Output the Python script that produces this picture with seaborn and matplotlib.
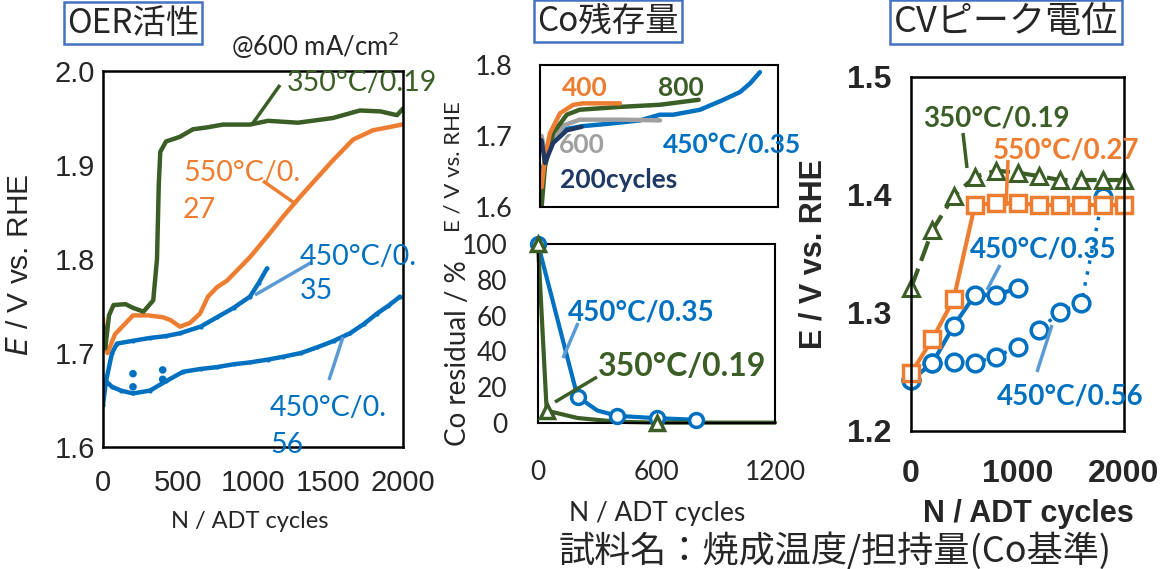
import numpy as np
import pandas as pd
import seaborn as sns
import matplotlib
matplotlib.use("Agg")
import matplotlib.pyplot as plt
from matplotlib.lines import Line2D

# ---------------- data ----------------
# Panel 1: OER activity @600 mA/cm2
oer_g_N = [0, 15, 40, 70, 150, 200, 270, 335, 360, 372, 382, 420, 513, 600, 693, 800, 980, 1100, 1300, 1533, 1713, 1850, 1960, 2000]
oer_g_E = [1.73, 1.705, 1.74, 1.751, 1.752, 1.748, 1.744, 1.756, 1.80, 1.88, 1.914, 1.925, 1.93, 1.938, 1.94, 1.943, 1.943, 1.947, 1.945, 1.95, 1.958, 1.957, 1.953, 1.96]
oer_o_N = [0, 10, 30, 80, 200, 300, 400, 450, 513, 580, 647, 700, 760, 827, 980, 1100, 1200, 1313, 1420, 1533, 1667, 1800, 1900, 1993]
oer_o_E = [1.737, 1.71, 1.70, 1.72, 1.74, 1.74, 1.738, 1.735, 1.728, 1.732, 1.742, 1.76, 1.77, 1.777, 1.802, 1.825, 1.845, 1.866, 1.885, 1.905, 1.927, 1.937, 1.94, 1.943]
oer_b35_N = [0, 20, 60, 93, 200, 313, 420, 513, 650, 760, 870, 980, 1040, 1093]
oer_b35_E = [1.66, 1.67, 1.70, 1.71, 1.713, 1.716, 1.718, 1.721, 1.728, 1.738, 1.748, 1.76, 1.775, 1.79]
oer_b56_N = [0, 20, 60, 120, 200, 313, 420, 533, 650, 760, 870, 980, 1100, 1200, 1320, 1427, 1540, 1647, 1740, 1827, 1900, 1980]
oer_b56_E = [1.645, 1.67, 1.664, 1.66, 1.657, 1.66, 1.67, 1.68, 1.683, 1.685, 1.688, 1.69, 1.693, 1.696, 1.70, 1.706, 1.713, 1.721, 1.731, 1.742, 1.75, 1.76]
oer_dots_N = [200, 200, 398, 398]
oer_dots_E = [1.678, 1.664, 1.682, 1.672]

# Panel 2 top: curves by cycle count
c200_N = [8, 25, 66, 135, 210]
c200_E = [1.694, 1.662, 1.69, 1.708, 1.713]
c400_N = [8, 25, 50, 101, 168, 218, 403]
c400_E = [1.628, 1.67, 1.704, 1.732, 1.744, 1.746, 1.746]
c600_N = [8, 30, 60, 120, 200, 400, 605]
c600_E = [1.70, 1.67, 1.69, 1.715, 1.723, 1.723, 1.722]
c800_N = [8, 25, 66, 135, 200, 403, 605, 800]
c800_E = [1.60, 1.657, 1.704, 1.73, 1.737, 1.741, 1.744, 1.751]
c35_N = [8, 50, 135, 218, 336, 504, 605, 672, 807, 925, 1009, 1059, 1109]
c35_E = [1.648, 1.69, 1.71, 1.714, 1.717, 1.722, 1.73, 1.73, 1.737, 1.751, 1.762, 1.774, 1.79]

# Panel 2 bottom: Co residual
res35_N = [0, 200, 300, 400, 600, 800]
res35_V = [100, 14.7, 7, 4, 2.7, 1.8]
res35_mk = [True, True, False, True, True, True]
res19_N = [0, 44, 200, 400, 600, 1200]
res19_V = [100, 6.9, 2.8, 0.7, 0.2, 0.2]
res19_mk = [True, True, False, False, True, False]

# Panel 3: CV peak potential
cv_N = [0, 200, 400, 600, 800, 1000, 1200, 1400, 1600, 1800, 2000]
cv_g = [1.321, 1.370, 1.399, 1.4155, 1.4206, 1.419, 1.416, 1.4127, 1.4127, 1.4127, 1.4127]
cv_o = [1.2489, 1.2777, 1.3116, 1.3915, 1.393, 1.393, 1.3915, 1.3915, 1.3915, 1.3915, 1.3915]
cv_b35_N = [0, 200, 400, 600, 800, 1000]
cv_b35 = [1.2432, 1.2574, 1.289, 1.3153, 1.3153, 1.321]
cv_b56_N = [0, 200, 400, 600, 800, 1000, 1200, 1400, 1600, 1800]
cv_b56 = [1.2432, 1.2574, 1.2588, 1.258, 1.263, 1.2714, 1.2856, 1.301, 1.3087, 1.398]

GREEN = "#3B5E26"
ORANGE = "#ED7D31"
BLUE = "#0070C0"
LBLUE = "#5B9BD5"
NAVY = "#1F3864"
GRAY = "#A0A0A0"
BOXC = "#4472C4"

sns.set_style("white")
CAL = ["Lato", "Noto Sans CJK JP", "DejaVu Sans"]
ARI = ["Liberation Sans", "DejaVu Sans"]
JP = ["Noto Sans CJK JP", "DejaVu Sans"]
plt.rcParams["font.family"] = CAL

W, H = 1165, 569
fig = plt.figure(figsize=(W / 100, H / 100), dpi=100)
fig.patch.set_facecolor("white")


def ax_px(l, t, r, b):
    return fig.add_axes([l / W, 1 - b / H, (r - l) / W, (b - t) / H])


def T(x, y, s, **kw):
    return fig.text(x / W, 1 - y / H, s, transform=fig.transFigure, **kw)


def L(x0, y0, x1, y1, color, lw=2.5):
    fig.add_artist(Line2D([x0 / W, x1 / W], [1 - y0 / H, 1 - y1 / H],
                          transform=fig.transFigure, color=color, lw=lw, solid_capstyle="butt"))


def style_axes(ax, lw=1.5):
    for s in ax.spines.values():
        s.set_visible(True)
        s.set_color("black")
        s.set_linewidth(lw)


def line(ax, x, y, color, lw, **kw):
    df = pd.DataFrame({"x": x, "y": y})
    sns.lineplot(data=df, x="x", y="y", ax=ax, color=color, lw=lw, sort=False,
                 estimator=None, legend=False, **kw)


BOX = dict(boxstyle="square,pad=0.1", fc="white", ec=BOXC, lw=1.8)

# ---------------- Panel 1 ----------------
ax1 = ax_px(103, 71, 403, 447)
line(ax1, oer_b56_N, oer_b56_E, BLUE, 3.2, marker="o", markersize=3, markeredgewidth=0)
line(ax1, oer_b35_N, oer_b35_E, BLUE, 3.2, marker="o", markersize=3, markeredgewidth=0)
line(ax1, oer_o_N, oer_o_E, ORANGE, 3.2)
line(ax1, oer_g_N, oer_g_E, GREEN, 3.2)
sns.scatterplot(x=oer_dots_N, y=oer_dots_E, ax=ax1, color=BLUE, s=30, edgecolor="none", legend=False)
ax1.set_xlim(0, 2000)
ax1.set_ylim(1.6, 2.0)
ax1.set_xticks([0, 500, 1000, 1500, 2000])
ax1.set_yticks([1.6, 1.7, 1.8, 1.9, 2.0])
ax1.set_yticklabels(["1.6", "1.7", "1.8", "1.9", "2.0"])
ax1.tick_params(direction="in", length=7, width=1.2, labelsize=21, pad=6)
ax1.tick_params(axis="x", pad=16)
for lab in ax1.get_xticklabels() + ax1.get_yticklabels():
    lab.set_family(ARI)
ax1.set_xlabel("")
ax1.set_ylabel("")
style_axes(ax1, 1.8)
T(20, 265, r"$\mathit{E}$ / V vs. RHE", rotation=90, ha="center", va="center", fontsize=21.5, family=ARI)
T(250, 522, "N / ADT cycles", ha="center", va="center", fontsize=17)
T(133, 23, "OER活性", ha="center", va="center", fontsize=24, family=JP, bbox=BOX)
T(315, 45, "@600 mA/cm$^{2}$", ha="center", va="center", fontsize=18.5)
T(287, 83, "350°C/0.19", color=GREEN, ha="left", va="center", fontsize=20.5)
L(280, 85, 253, 123, GREEN)
T(183, 173, "550°C/0.", color=ORANGE, ha="left", va="center", fontsize=20.5)
T(183, 210, "27", color=ORANGE, ha="left", va="center", fontsize=20.5)
L(263, 181, 293, 202, ORANGE)
T(300, 257, "450°C/0.", color=BLUE, ha="left", va="center", fontsize=20.5)
T(300, 291, "35", color=BLUE, ha="left", va="center", fontsize=20.5)
L(312, 262, 255, 295, LBLUE)
T(270, 408, "450°C/0.", color=BLUE, ha="left", va="center", fontsize=20.5)
T(270, 445, "56", color=BLUE, ha="left", va="center", fontsize=20.5)
L(329, 380, 343, 337, LBLUE)

# ---------------- Panel 2 top ----------------
ax2 = ax_px(540, 65, 778, 207)
line(ax2, c35_N, c35_E, BLUE, 3.2)
line(ax2, c600_N, c600_E, GRAY, 3.2)
line(ax2, c800_N, c800_E, GREEN, 3.2)
line(ax2, c400_N, c400_E, ORANGE, 3.2)
line(ax2, c200_N, c200_E, NAVY, 3.2)
ax2.set_xlim(0, 1200)
ax2.set_ylim(1.6, 1.8)
ax2.set_xticks([200, 400, 600, 800, 1000])
ax2.set_xticklabels([])
ax2.set_yticks([1.6, 1.7, 1.8])
ax2.set_yticklabels(["1.6", "1.7", "1.8"])
ax2.tick_params(direction="in", length=6, width=1.2, labelsize=19.5, pad=20)
ax2.set_xlabel("")
ax2.set_ylabel("")
style_axes(ax2, 1.5)
T(585, 88, "400", color=ORANGE, ha="center", va="center", fontsize=19, weight="bold")
T(681, 88, "800", color=GREEN, ha="center", va="center", fontsize=19, weight="bold")
T(582, 145, "600", color=GRAY, ha="center", va="center", fontsize=19, weight="bold")
T(560, 180, "200cycles", color=NAVY, ha="left", va="center", fontsize=19, weight="bold")
T(663, 145, "450°C/0.35", color=BLUE, ha="left", va="center", fontsize=19, weight="bold")
T(608, 21, "Co残存量", ha="center", va="center", fontsize=24, family=JP, bbox=BOX)
T(453, 167, "E / V vs. RHE", rotation=90, ha="center", va="center", fontsize=16)

# ---------------- Panel 2 bottom ----------------
ax3 = ax_px(538, 244, 775, 423)
line(ax3, res35_N, res35_V, BLUE, 3.0)
line(ax3, res19_N, res19_V, GREEN, 3.0)
mk35 = [i for i, m in enumerate(res35_mk) if m]
mk19 = [i for i, m in enumerate(res19_mk) if m]
ax3.plot([res35_N[i] for i in mk35], [res35_V[i] for i in mk35], "o", ms=10, mfc="white",
         mec=BLUE, mew=2.5, ls="none", zorder=5)
ax3.plot([res19_N[i] for i in mk19], [res19_V[i] for i in mk19], "^", ms=10, mfc="white",
         mec=GREEN, mew=2.5, ls="none", zorder=6)
ax3.set_xlim(0, 1200)
ax3.set_ylim(0, 100)
ax3.set_xticks([0, 600, 1200])
ax3.set_yticks([0, 20, 40, 60, 80, 100])
ax3.tick_params(direction="in", length=6, width=1.2, labelsize=19, pad=22)
ax3.tick_params(axis="x", pad=27)
ax3.set_xlabel("")
ax3.set_ylabel("")
style_axes(ax3, 1.5)
for c in ax3.lines:
    c.set_clip_on(False)
T(458, 353, "Co residual / %", rotation=90, ha="center", va="center", fontsize=20)
T(657, 513, "N / ADT cycles", ha="center", va="center", fontsize=19)
T(568, 313, "450°C/0.35", color=BLUE, ha="left", va="center", fontsize=20, weight="bold")
L(578, 323, 563, 358, LBLUE)
T(598, 367, "350°C/0.19", color=GREEN, ha="left", va="center", fontsize=23, weight="bold")
L(597, 377, 555, 402, GREEN)

# ---------------- Panel 3 ----------------
ax4 = ax_px(911, 77, 1124, 431)
line(ax4, cv_b56_N, cv_b56, BLUE, 2.5, linestyle=(0, (1, 2.2)),
     marker="o", markersize=12, markerfacecolor="white", markeredgecolor=BLUE, markeredgewidth=2.5)
line(ax4, cv_b35_N, cv_b35, BLUE, 3.0,
     marker="o", markersize=12, markerfacecolor="white", markeredgecolor=BLUE, markeredgewidth=2.5)
line(ax4, cv_N, cv_o, ORANGE, 3.0,
     marker="s", markersize=11, markerfacecolor="white", markeredgecolor=ORANGE, markeredgewidth=2.5)
line(ax4, cv_N, cv_g, GREEN, 3.0, linestyle=(0, (5, 2)),
     marker="^", markersize=11, markerfacecolor="white", markeredgecolor=GREEN, markeredgewidth=2.2)
for c in ax4.lines:
    c.set_clip_on(False)
ax4.set_xlim(0, 2000)
ax4.set_ylim(1.2, 1.5)
ax4.set_xticks([0, 1000, 2000])
ax4.set_yticks([1.2, 1.3, 1.4, 1.5])
ax4.set_yticklabels(["1.2", "1.3", "1.4", "1.5"])
ax4.tick_params(direction="in", length=8, width=1.2, labelsize=23, pad=14)
ax4.tick_params(axis="x", pad=20)
for lab in ax4.get_xticklabels() + ax4.get_yticklabels():
    lab.set_family(ARI)
    lab.set_weight("bold")
ax4.set_xlabel("")
ax4.set_ylabel("")
style_axes(ax4, 1.8)
T(813, 254, "E / V vs. RHE", rotation=90, ha="center", va="center", fontsize=22, weight="bold", family=ARI)
T(1028, 514, "N / ADT cycles", ha="center", va="center", fontsize=22, weight="bold", family=ARI)
T(1006, 22, "CVピーク電位", ha="center", va="center", fontsize=26, family=JP, bbox=BOX)
T(923, 118, "350°C/0.19", color=GREEN, ha="left", va="center", fontsize=20, weight="bold")
L(963, 133, 967, 168, GREEN)
T(993, 150, "550°C/0.27", color=ORANGE, ha="left", va="center", fontsize=20, weight="bold")
L(1008, 160, 1006, 206, ORANGE)
T(970, 250, "450°C/0.35", color=BLUE, ha="left", va="center", fontsize=20, weight="bold")
L(1000, 265, 987, 290, LBLUE)
T(997, 397, "450°C/0.56", color=BLUE, ha="left", va="center", fontsize=20, weight="bold")
L(1037, 372, 1052, 325, LBLUE)

# bottom note
T(835, 551, "試料名：焼成温度/担持量(Co基準)", ha="center", va="center", fontsize=26, family=JP)

fig.savefig("out.png", dpi=100, facecolor="white")
